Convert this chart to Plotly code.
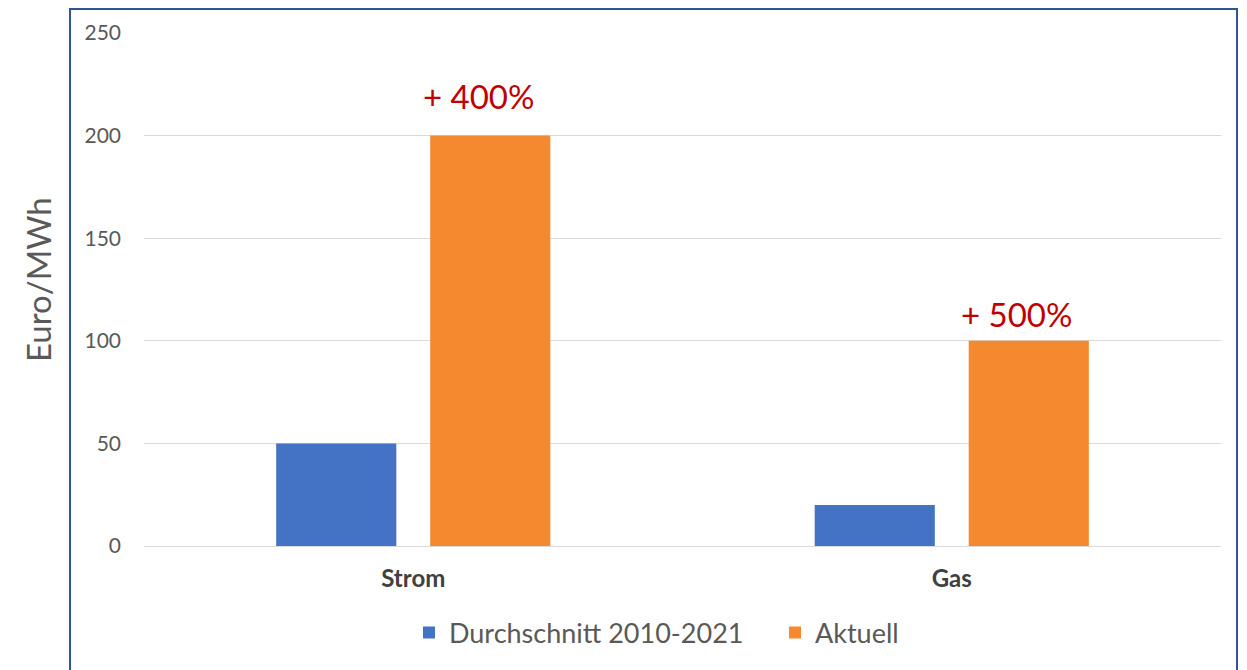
import plotly.graph_objects as go

categories = ["Strom", "Gas"]
durchschnitt = [50, 20]
aktuell = [200, 100]
labels = ["+ 400%", "+ 500%"]
y_ticks = [0, 50, 100, 150, 200, 250]

OFF = 8  # page body margin
W, H = 1247 - OFF, 670 - OFF
# plot area in screen pixels
SX0, SX1, SY0, SY1 = 144, 1221, 33, 546
L, R, T, B = SX0 - OFF, W - (SX1 - OFF), SY0 - OFF, H - (SY1 - OFF)
pw = SX1 - SX0
ph = SY1 - SY0

def px_x(p):
    return (p - SX0) / pw

def px_y(p):
    return (SY1 - p) / ph

fig = go.Figure()
fig.add_trace(go.Bar(x=categories, y=durchschnitt, name="Durchschnitt 2010-2021",
                     marker=dict(color="#4472C4", line=dict(width=0))))
fig.add_trace(go.Bar(x=categories, y=aktuell, name="Aktuell",
                     marker=dict(color="#F5892F", line=dict(width=0))))

label_yshift = [18, 5]
for c, v, t, ys in zip(categories, aktuell, labels, label_yshift):
    fig.add_annotation(x=c, y=v, text=t, showarrow=False, yanchor="bottom",
                       xshift=65, yshift=ys,
                       font=dict(family="Lato", size=33, color="#C00000"))

fig.add_annotation(xref="paper", yref="paper", x=px_x(38), y=px_y(280),
                   xanchor="center", yanchor="middle",
                   text="Euro/MWh", textangle=-90, showarrow=False,
                   font=dict(family="Lato", size=33, color="#595959"))

fig.add_shape(type="rect", xref="paper", yref="paper",
              x0=px_x(70), x1=px_x(1237), y0=px_y(720), y1=px_y(OFF + 1),
              line=dict(color="#2F5597", width=2), fillcolor="rgba(0,0,0,0)")

fig.update_layout(
    width=W, height=H,
    margin=dict(l=L, r=R, t=T, b=B, autoexpand=False),
    paper_bgcolor="white", plot_bgcolor="white",
    barmode="group", bargap=0.428, bargroupgap=0.22,
    font=dict(family="Lato", color="#595959"),
    showlegend=True,
    legend=dict(orientation="h", x=px_x(409), xanchor="left",
                y=px_y(633), yanchor="middle",
                font=dict(family="Lato", size=27, color="#595959"),
                entrywidth=321, entrywidthmode="pixels",
                traceorder="normal"),
    yaxis=dict(range=[0, 250], tickvals=y_ticks, showgrid=True,
               gridcolor="#D9D9D9", gridwidth=1, zeroline=True,
               zerolinecolor="#D9D9D9", zerolinewidth=1,
               tickfont=dict(family="Lato", size=21, color="#595959"),
               ticklabelstandoff=22, showline=False),
    xaxis=dict(showline=False, ticks="",
               tickfont=dict(family="Lato", size=24, color="#404040", weight="bold"),
               ticklabelstandoff=16),
)

fig.write_html("out.html")
